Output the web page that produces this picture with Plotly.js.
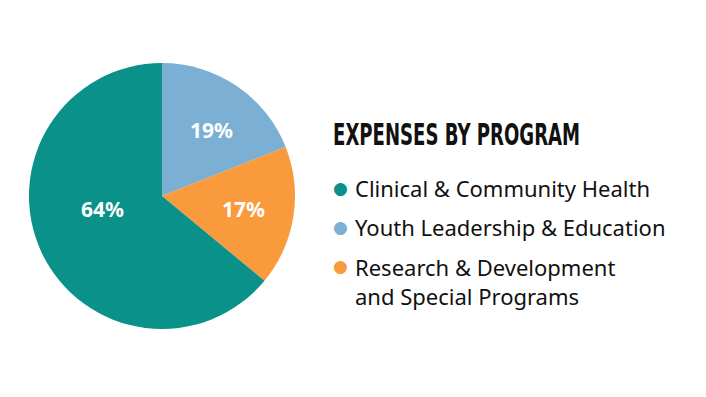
<!DOCTYPE html>
<html><head><meta charset="utf-8">
<script src="https://cdn.plot.ly/plotly-3.0.1.min.js"></script>
<style>html,body{margin:0;padding:0;background:#fff}</style>
</head><body><div id="chart" style="width:706px;height:397px"></div>
<script>
const categories = ["Youth Leadership & Education", "Research & Development<br>and Special Programs", "Clinical & Community Health"];
const values = [19, 17, 64];
const colors = ["#7bafd4", "#f99a3c", "#0a918a"];
const legendOrder = [2, 0, 1];
const title = "EXPENSES BY PROGRAM";

// layout (pixels)
const W = 706, H = 397;
const pie = {cx: 162, cy: 196, r: 133};
const labelStyle = [{rf: 0.62, dTheta: 3}, {rf: 0.62, dTheta: 0}, {rf: 0.46, dTheta: 13}];
const legendY = [188, 227, 266];
const titleLeft = 333, titleWidth = 247;

const annotations = [{
  text: "<b>" + title + "</b>", xref: "paper", yref: "paper",
  x: (titleLeft + titleWidth / 2)/W, y: 1 - 134/H, xanchor: "center", yanchor: "middle", showarrow: false,
  font: {family: "DejaVu Sans Condensed, DejaVu Sans", size: 31, color: "#111"}
}];

// slice labels
const total = values.reduce((a, b) => a + b, 0);
let cum = 0;
values.forEach((v, i) => {
  const mid = (cum + v / 2) / total * 360 + labelStyle[i].dTheta;
  cum += v;
  const th = mid * Math.PI / 180;
  const rr = labelStyle[i].rf * pie.r;
  const px = pie.cx + rr * Math.sin(th), py = pie.cy - rr * Math.cos(th);
  annotations.push({
    text: "<b>" + Math.round(v / total * 100) + "%</b>", xref: "paper", yref: "paper",
    x: px / W, y: 1 - py / H, xanchor: "center", yanchor: "middle", showarrow: false,
    font: {family: "Noto Sans", size: 21, color: "#fff"}
  });
});

legendOrder.forEach((idx, i) => {
  annotations.push({
    text: "●", xref: "paper", yref: "paper", x: 340/W, y: 1 - legendY[i]/H,
    xanchor: "center", yanchor: "middle", showarrow: false,
    font: {family: "DejaVu Sans", size: 17, color: colors[idx]}
  });
  annotations.push({
    text: categories[idx], xref: "paper", yref: "paper", x: 353/W, y: 1 - legendY[i]/H,
    xanchor: "left", yanchor: idx === 1 ? "top" : "middle", yshift: idx === 1 ? 16 : 0,
    align: "left", showarrow: false,
    font: {family: "Noto Sans", size: 22, color: "#111"}
  });
});

Plotly.newPlot("chart", [{
  type: "pie", values: values, labels: categories, sort: false, direction: "clockwise", rotation: 0,
  marker: {colors: colors, line: {width: 0}},
  textinfo: "none", hoverinfo: "none",
  domain: {x: [(pie.cx - pie.r)/W, (pie.cx + pie.r)/W], y: [1 - (pie.cy + pie.r)/H, 1 - (pie.cy - pie.r)/H]}
}], {
  width: W, height: H, margin: {l: 0, r: 0, t: 0, b: 0},
  paper_bgcolor: "#fff", showlegend: false, annotations: annotations
}, {displayModeBar: false, staticPlot: true}).then(gd => {
  gd.querySelectorAll(".annotation-text").forEach(t => {
    if (t.textContent === title) {
      t.setAttribute("textLength", titleWidth);
      t.setAttribute("lengthAdjust", "spacingAndGlyphs");
    }
  });
});
</script></body></html>
